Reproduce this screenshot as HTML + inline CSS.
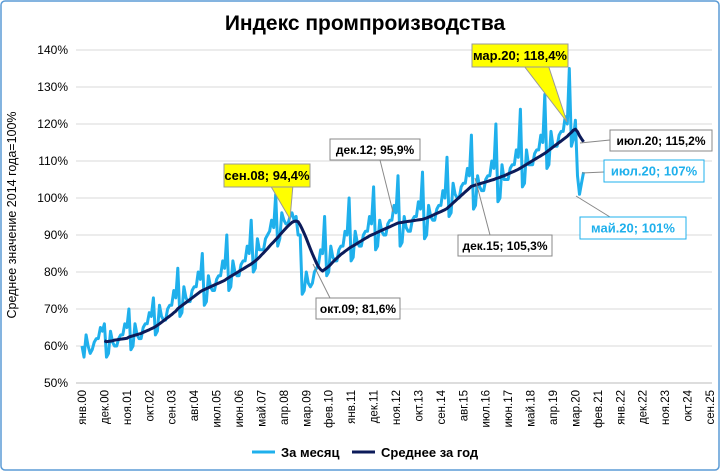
<!DOCTYPE html>
<html><head><meta charset="utf-8"><style>
body{margin:0;background:#fff}
svg{display:block;font-family:"Liberation Sans",sans-serif}
</style></head><body>
<svg id="c" width="720" height="471" viewBox="0 0 720 471">
<rect x="1" y="1" width="718" height="469" rx="4" fill="#fff" stroke="#5b9bd5" stroke-width="1.5"/>
<text x="365" y="30" font-size="21" font-weight="bold" text-anchor="middle" fill="#000">Индекс промпроизводства</text>
<text transform="translate(16,215) rotate(-90)" font-size="12.5" text-anchor="middle">Среднее значение 2014 года=100%</text>
<g id="grid"></g><g id="xl"></g><g id="series"></g><g id="ann"></g>
<g>
<line x1="252" y1="452" x2="275" y2="452" stroke="#1fb0ec" stroke-width="3"/>
<text x="281" y="457" font-size="13" font-weight="bold">За месяц</text>
<line x1="352" y1="452" x2="375" y2="452" stroke="#0c1b5a" stroke-width="3"/>
<text x="381" y="457" font-size="13" font-weight="bold">Среднее за год</text>
</g>
</svg>
<script>
const yTicks=[50,60,70,80,90,100,110,120,130,140];
const xLabels=["янв.00","дек.00","ноя.01","окт.02","сен.03","авг.04","июл.05","июн.06","май.07","апр.08","мар.09","фев.10","янв.11","дек.11","ноя.12","окт.13","сен.14","авг.15","июл.16","июн.17","май.18","апр.19","мар.20","фев.21","янв.22","дек.22","ноя.23","окт.24","сен.25"];
const monthly=[
60,57,63,60,58,59,61,62,62,65,64,66,
57,58,64,61,60,60,62,63,63,66,65,70,
59,60,66,63,62,62,65,66,66,69,68,73,
63,64,71,68,67,67,70,71,71,75,73,81,
68,69,76,73,72,72,75,76,76,80,78,85,
71,72,79,76,75,75,78,79,79,83,81,90,
75,76,83,80,79,79,82,83,83,87,85,94,
80,81,89,86,86,86,89,90,91,94,92,101,
87,89,96,94,93,93,95,96,94,95,90,90,
74,75,80,77,76,77,80,81,82,86,85,95,
79,80,87,84,83,83,86,87,87,91,90,100,
83,84,91,88,87,87,90,91,91,95,93,103,
86,87,94,91,90,90,93,94,94,98,96,106,
87,88,95,92,91,91,94,95,95,99,97,107,
89,90,98,95,94,94,97,98,98,102,100,111,
95,96,104,101,100,100,103,104,104,108,106,117,
97,98,106,103,102,102,105,106,106,110,108,120,
99,100,109,105,105,105,108,109,109,113,111,124,
103,104,113,109,109,109,112,113,113,117,115,128,
108,109,118,114,114,114,117,118,118,122,120,135,
114,116,121,106,101,104,107];
const NS="http://www.w3.org/2000/svg";
const X0=82,DX=628/308,Y0=383,PY=3.7;
function x(i){return X0+DX*i}
function y(v){return Y0-(v-50)*PY}
function mk(t,a,p){const e=document.createElementNS(NS,t);for(const k in a)e.setAttribute(k,a[k]);p.appendChild(e);return e}
const grid=document.getElementById('grid');
yTicks.forEach(v=>{
const l=mk('line',{x1:76,x2:712,y1:y(v),y2:y(v),stroke:v==50?'#bbb':'#d9d9d9'},grid);


const t=mk('text',{x:68,y:y(v)+4,'font-size':12,'text-anchor':'end'},grid);t.textContent=v+'%';


});
const xl=document.getElementById('xl');
xLabels.forEach((s,k)=>{
const xx=x(k*11);
const t=mk('text',{transform:`translate(${xx+4},390) rotate(-90)`,'font-size':11.5,'text-anchor':'end'},xl);t.textContent=s;


});
const sg=document.getElementById('series');
let d=monthly.map((v,i)=>(i?'L':'M')+x(i).toFixed(1)+','+y(v).toFixed(1)).join('');
const p1=mk('path',{d:d,fill:'none',stroke:'#1fb0ec','stroke-width':3,'stroke-linejoin':'round'},sg);


let pts=[];
for(let i=11;i<monthly.length;i++){let s=0;for(let j=i-11;j<=i;j++)s+=monthly[j];pts.push((pts.length?'L':'M')+x(i).toFixed(1)+','+y(s/12).toFixed(1));}
const p2=mk('path',{d:pts.join(''),fill:'none',stroke:'#0c1b5a','stroke-width':3,'stroke-linejoin':'round'},sg);


const ann=document.getElementById('ann');
function callout(name,txt,bx,by,w,h,lx,ly,opt){
const g=mk('g',{},ann);


if(opt.yellow){
mk('polygon',{points:`${bx+w*0.55},${by+h} ${bx+w*0.8},${by+h} ${lx},${ly}`,fill:'#ffff00',stroke:'#999'},g);
mk('rect',{x:bx,y:by,width:w,height:h,fill:'#ffff00',stroke:'#999'},g);
}else{
mk('line',{x1:opt.ax,y1:opt.ay,x2:lx,y2:ly,stroke:'#888'},g);
mk('rect',{x:bx,y:by,width:w,height:h,fill:'#fff',stroke:opt.col||'#888'},g);
}
const t=mk('text',{x:bx+w/2,y:by+h/2+4.5,'font-size':opt.fs||12,'font-weight':'bold','text-anchor':'middle',fill:opt.col||'#000'},g);t.textContent=txt;
}
callout('callout-sep08','сен.08; 94,4%',224,164,86,23,290,219,{yellow:1,fs:13});
callout('callout-mar20','мар.20; 118,4%',472,44,96,23,567,122,{yellow:1,fs:13});
callout('callout-dec12','дек.12; 95,9%',330,139,90,21,393,212,{ax:380,ay:160});
callout('callout-oct09','окт.09; 81,6%',316,298,84,21,313,264,{ax:330,ay:298});
callout('callout-dec15','дек.15; 105,3%',458,235,94,21,475,178,{ax:490,ay:235});
callout('callout-jul20-avg','июл.20; 115,2%',610,130,102,21,580,143,{ax:610,ay:140});
callout('callout-jul20-month','июл.20; 107%',604,160,100,22,582,173,{ax:604,ay:172,col:'#1fb0ec',fs:13});
callout('callout-may20-month','май.20; 101%',580,217,106,22,576,196,{ax:610,ay:217,col:'#1fb0ec',fs:13});
</script>
</body></html>
